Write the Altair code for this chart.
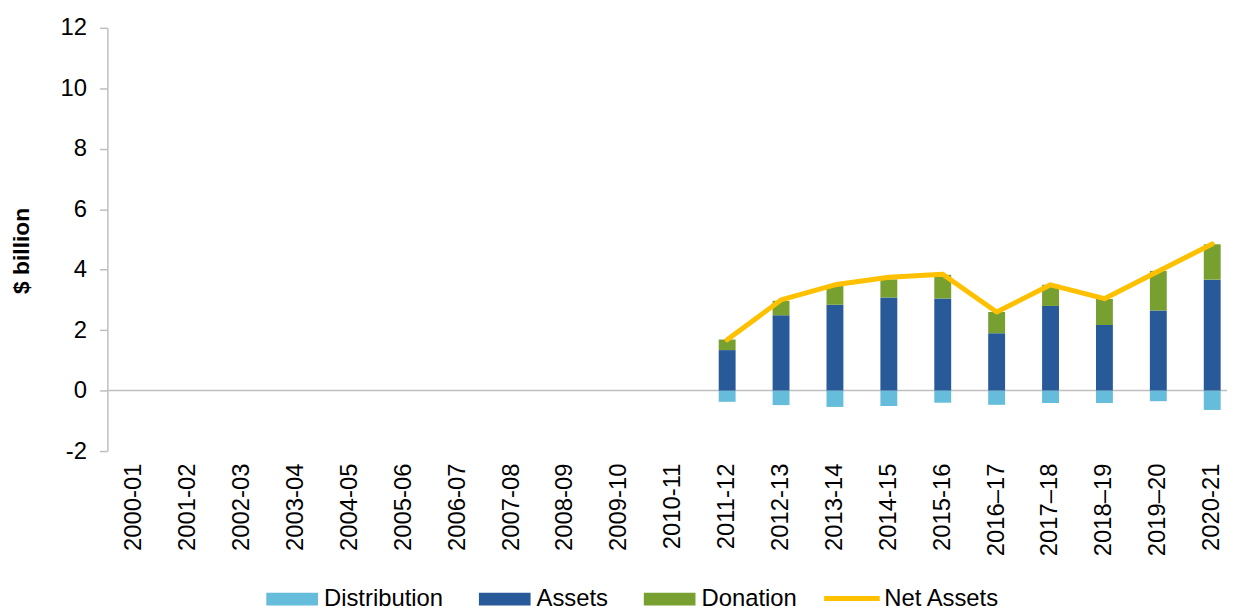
import altair as alt
import pandas as pd

years = ["2000-01", "2001-02", "2002-03", "2003-04", "2004-05", "2005-06", "2006-07",
         "2007-08", "2008-09", "2009-10", "2010-11", "2011-12", "2012-13", "2013-14",
         "2014-15", "2015-16", "2016–17", "2017–18", "2018–19", "2019–20", "2020-21"]
data_years = years[11:]
distribution = [-0.37, -0.48, -0.54, -0.51, -0.40, -0.47, -0.41, -0.41, -0.35, -0.64]
assets = [1.34, 2.49, 2.84, 3.08, 3.05, 1.90, 2.80, 2.17, 2.65, 3.67]
donation = [0.35, 0.48, 0.62, 0.60, 0.78, 0.70, 0.70, 0.86, 1.31, 1.17]
net_assets = [1.68, 3.00, 3.50, 3.75, 3.85, 2.60, 3.50, 3.04, 3.95, 4.85]

series = ["Distribution", "Assets", "Donation"]
colors = ["#65BCDB", "#285A9A", "#77A030"]
order_map = {"Assets": 1, "Donation": 2, "Distribution": 3}

rows = []
for i, y in enumerate(data_years):
    for s, vals in zip(series, [distribution, assets, donation]):
        rows.append({"year": y, "series": s, "value": vals[i], "ord": order_map[s]})
bars_df = pd.DataFrame(rows)
line_df = pd.DataFrame({"year": data_years, "value": net_assets, "name": "Net Assets"})

FONT = "Liberation Sans"
xscale = alt.Scale(domain=years, range=[0, 1139.25], paddingInner=0, paddingOuter=0)
yscale = alt.Scale(domain=[-2, 12], nice=False)

x_axis = alt.Axis(title=None, domain=False, ticks=False, labelAngle=270, labelFontSize=24,
                  labelPadding=12, labelColor="#000000", labelFont=FONT, grid=False)
y_axis = alt.Axis(title="$ billion", values=[-2, 0, 2, 4, 6, 8, 10, 12], grid=False,
                  labelExpr="datum.value + ''",
                  domainColor="#BFBFBF", domainWidth=1.5, tickColor="#BFBFBF", tickWidth=1.5,
                  tickSize=8, labelFontSize=24, labelPadding=13, labelColor="#000000",
                  labelFont=FONT, titleFont=FONT, titleFontSize=23, titleFontWeight="bold",
                  titleColor="#000000", titleAngle=270, titleX=-86, titleY=224,
                  titleAlign="center", titleBaseline="middle")

bars = alt.Chart(bars_df).mark_bar(size=17).encode(
    x=alt.X("year:N", scale=xscale, axis=x_axis, sort=years),
    y=alt.Y("sum(value):Q", scale=yscale, axis=y_axis, stack="zero"),
    color=alt.Color("series:N", scale=alt.Scale(domain=series, range=colors),
                    legend=alt.Legend(title=None, orient="none", direction="horizontal",
                                      legendX=160, legendY=549, padding=0,
                                      symbolType="M-1,-0.25H1V0.25H-1Z", symbolSize=2704,
                                      symbolStrokeWidth=0, labelFontSize=24, labelFont=FONT,
                                      labelColor="#000000", labelOffset=6, columnPadding=35)),
    order=alt.Order("ord:Q"),
)

zero = alt.Chart(pd.DataFrame({"v": [0]})).mark_rule(color="#BFBFBF", strokeWidth=1.5).encode(
    y=alt.Y("v:Q", scale=yscale)
)

line = alt.Chart(line_df).mark_line(strokeWidth=5, strokeCap="round", strokeJoin="round").encode(
    x=alt.X("year:N", scale=xscale, sort=years),
    y=alt.Y("value:Q", scale=yscale),
    stroke=alt.Stroke("name:N", scale=alt.Scale(domain=["Net Assets"], range=["#FFC000"]),
                      legend=alt.Legend(title=None, orient="none", direction="horizontal",
                                        legendX=719, legendY=544, padding=0,
                                        symbolType="stroke", symbolSize=3136,
                                        symbolStrokeWidth=5, labelFontSize=24, labelFont=FONT,
                                        labelColor="#000000", labelOffset=2)),
)

chart = alt.layer(zero, bars, line).properties(
    width=1127, height=426,
    padding={"left": 100, "top": 18, "right": 0, "bottom": 156},
    autosize=alt.AutoSizeParams(type="none"),
).configure_view(stroke=None).resolve_scale(color="independent")

chart.save("out.html", embed_options={"renderer": "svg", "actions": False})
